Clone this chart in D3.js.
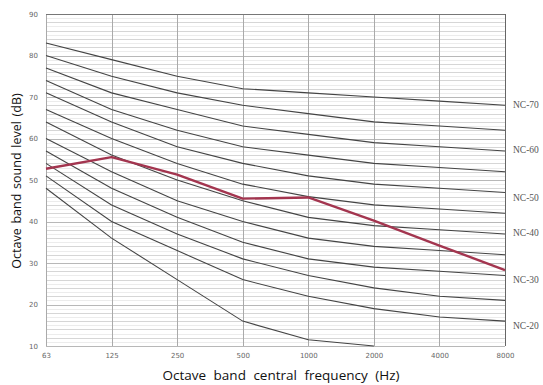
<!DOCTYPE html>
<html><head><meta charset="utf-8">
<script src="https://cdn.jsdelivr.net/npm/d3@7"></script>
<style>body{margin:0;background:#fff}svg{display:block}</style>
</head><body>
<svg id="c" width="543" height="385"></svg>
<script>
const frequencies = ["63","125","250","500","1000","2000","4000","8000"];
const yTicks = [10,20,30,40,50,60,70,80,90];
const ncNames = ["NC-70","NC-65","NC-60","NC-55","NC-50","NC-45","NC-40","NC-35","NC-30","NC-25","NC-20","NC-15"];
const ncValues = [
  [83,79,75,72,71,70,69,68],
  [80,75,71,68,66,64,63,62],
  [77,71,67,63,61,59,58,57],
  [74,67,62,58,56,54,53,52],
  [71,64,58,54,51,49,48,47],
  [67,60,54,49,46,44,43,42],
  [64,56,50,45,41,39,38,37],
  [60,52,45,40,36,34,33,32],
  [57,48,41,35,31,29,28,27],
  [54,44,37,31,27,24,22,21],
  [51,40,33,26,22,19,17,16],
  [48,36,26,16,11.5,10,null,null]
];
const labelNames = ["NC-70","NC-60","NC-50","NC-40","NC-30","NC-20"];
const labelLevels = [68,57.2,45.6,37.2,26,14.7];
const measured = [52.7,55.5,51.3,45.5,45.8,40.2,34.2,28.3];

const svg = d3.select("#c");
const L=46,R=505,T=14,B=346;
const x = d3.scalePoint().domain(frequencies).range([L,R]);
const y = d3.scaleLinear().domain([10,90]).range([B,T]);

// horizontal grid
const g = svg.append("g");
g.selectAll("line.h").data(d3.range(10,91,1)).join("line")
  .attr("x1",L).attr("x2",R)
  .attr("y1",d=>Math.round(y(d))+0.5).attr("y2",d=>Math.round(y(d))+0.5)
  .attr("stroke",d=> d%10===0 ? "#b8b8b8" : (d%2===0 ? "#d6d6d6" : "#ececec"))
  .attr("stroke-width",1);
// vertical grid
g.selectAll("line.v").data(frequencies).join("line")
  .attr("x1",d=>Math.round(x(d))+0.5).attr("x2",d=>Math.round(x(d))+0.5)
  .attr("y1",T).attr("y2",B)
  .attr("stroke",(d,i)=> i===frequencies.length-1 ? "#666" : "#aaa").attr("stroke-width",1);
// top border
svg.append("line").attr("x1",L).attr("x2",R).attr("y1",T+0.5).attr("y2",T+0.5).attr("stroke","#777");

const line = d3.line().defined(d=>d!=null)
  .x((d,i)=>x(frequencies[i])).y(d=>y(d));

svg.append("g").selectAll("path").data(ncValues).join("path")
  .attr("d",d=>line(d)).attr("fill","none").attr("stroke","#444").attr("stroke-width",1.1);

svg.append("path").attr("d",line(measured)).attr("fill","none")
  .attr("stroke","#a3354f").attr("stroke-width",2.4).attr("stroke-linejoin","round");

// axes
const yAxis = d3.axisLeft(y).tickValues(yTicks).tickSize(0).tickPadding(8);
const ya = svg.append("g").attr("transform",`translate(${L},0)`).call(yAxis);
ya.select(".domain").remove();
ya.selectAll("text").attr("font-family","DejaVu Sans").attr("font-size",7).attr("fill","#666");

const xAxis = d3.axisBottom(x).tickSize(0).tickPadding(7);
const xa = svg.append("g").attr("transform",`translate(0,${B})`).call(xAxis);
xa.select(".domain").remove();
xa.selectAll("text").attr("font-family","DejaVu Sans").attr("font-size",7).attr("fill","#666");

// NC labels
svg.append("g").selectAll("text").data(labelNames).join("text")
  .attr("x",513).attr("y",(n,i)=>y(labelLevels[i])+3)
  .attr("font-family","Liberation Serif").attr("font-size",9.5).attr("fill","#555")
  .text(d=>d);

svg.append("text").attr("transform","translate(21,181) rotate(-90)")
  .attr("text-anchor","middle").attr("font-family","Open Sans").attr("font-size",12.5)
  .attr("word-spacing",1.5)
  .attr("fill","#111").text("Octave band sound level (dB)");
svg.append("text").attr("x",281).attr("y",380)
  .attr("text-anchor","middle").attr("font-family","Open Sans").attr("font-size",13.5)
  .attr("word-spacing",4)
  .attr("fill","#111").text("Octave band central frequency (Hz)");
</script>
</body></html>
